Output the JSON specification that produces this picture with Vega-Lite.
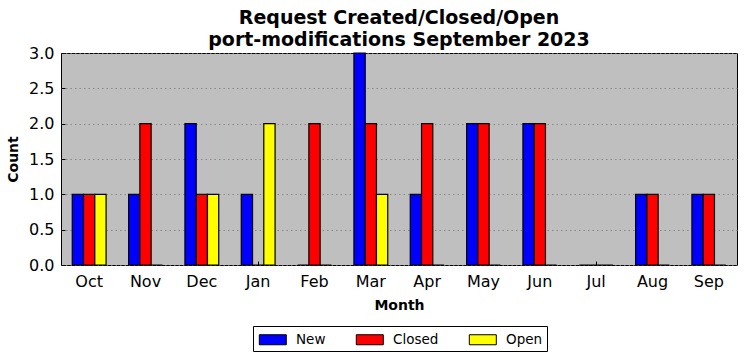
{
  "$schema": "https://vega.github.io/schema/vega-lite/v6.json",
  "width": 676,
  "height": 212,
  "autosize": {"type": "pad"},
  "padding": {"left": 6, "top": 9, "right": 9, "bottom": 0},
  "background": "white",
  "title": {
    "text": ["Request Created/Closed/Open", "port-modifications September 2023"],
    "font": "DejaVu Sans",
    "fontSize": 19,
    "fontWeight": "bold",
    "color": "black",
    "anchor": "middle",
    "frame": "group",
    "offset": -5,
    "lineHeight": 22
  },
  "config": {
    "view": {"fill": "#bfbfbf", "stroke": "black", "strokeWidth": 1},
    "font": "DejaVu Sans"
  },
  "data": {
    "values": [
      {"month": "Oct", "type": "New", "count": 1}, {"month": "Oct", "type": "Closed", "count": 1}, {"month": "Oct", "type": "Open", "count": 1},
      {"month": "Nov", "type": "New", "count": 1}, {"month": "Nov", "type": "Closed", "count": 2}, {"month": "Nov", "type": "Open", "count": 0},
      {"month": "Dec", "type": "New", "count": 2}, {"month": "Dec", "type": "Closed", "count": 1}, {"month": "Dec", "type": "Open", "count": 1},
      {"month": "Jan", "type": "New", "count": 1}, {"month": "Jan", "type": "Closed", "count": 0}, {"month": "Jan", "type": "Open", "count": 2},
      {"month": "Feb", "type": "New", "count": 0}, {"month": "Feb", "type": "Closed", "count": 2}, {"month": "Feb", "type": "Open", "count": 0},
      {"month": "Mar", "type": "New", "count": 3}, {"month": "Mar", "type": "Closed", "count": 2}, {"month": "Mar", "type": "Open", "count": 1},
      {"month": "Apr", "type": "New", "count": 1}, {"month": "Apr", "type": "Closed", "count": 2}, {"month": "Apr", "type": "Open", "count": 0},
      {"month": "May", "type": "New", "count": 2}, {"month": "May", "type": "Closed", "count": 2}, {"month": "May", "type": "Open", "count": 0},
      {"month": "Jun", "type": "New", "count": 2}, {"month": "Jun", "type": "Closed", "count": 2}, {"month": "Jun", "type": "Open", "count": 0},
      {"month": "Jul", "type": "New", "count": 0}, {"month": "Jul", "type": "Closed", "count": 0}, {"month": "Jul", "type": "Open", "count": 0},
      {"month": "Aug", "type": "New", "count": 1}, {"month": "Aug", "type": "Closed", "count": 1}, {"month": "Aug", "type": "Open", "count": 0},
      {"month": "Sep", "type": "New", "count": 1}, {"month": "Sep", "type": "Closed", "count": 1}, {"month": "Sep", "type": "Open", "count": 0}
    ]
  },
  "mark": {"type": "bar", "stroke": "black", "strokeWidth": 1.2},
  "encoding": {
    "x": {
      "field": "month", "type": "nominal",
      "sort": ["Oct","Nov","Dec","Jan","Feb","Mar","Apr","May","Jun","Jul","Aug","Sep"],
      "scale": {"paddingInner": 0.4, "paddingOuter": 0.2},
      "axis": {
        "title": "Month", "titleFont": "DejaVu Sans", "titleFontSize": 14, "titleFontWeight": "bold", "titleColor": "black", "titlePadding": 9,
        "labelAngle": 0, "labelFontSize": 16, "labelColor": "black", "labelPadding": 8,
        "domain": false, "ticks": true, "tickSize": 4, "offset": -4, "tickColor": "black", "grid": false
      }
    },
    "xOffset": {"field": "type", "type": "nominal", "sort": ["New", "Closed", "Open"], "scale": {"paddingInner": 0, "paddingOuter": 0}},
    "y": {
      "field": "count", "type": "quantitative",
      "scale": {"domain": [0, 3], "nice": false},
      "axis": {
        "title": "Count", "titleFont": "DejaVu Sans", "titleFontSize": 14, "titleFontWeight": "bold", "titleColor": "black", "titlePadding": 8,
        "values": [0, 0.5, 1, 1.5, 2, 2.5, 3], "format": ".1f",
        "labelFontSize": 16, "labelColor": "black", "labelPadding": 7,
        "domain": false, "ticks": true, "tickSize": 4, "offset": -4, "tickColor": "black",
        "grid": true, "gridColor": "#7a7a7a", "gridDash": [1.5, 3], "gridWidth": 0.8
      }
    },
    "color": {
      "field": "type", "type": "nominal", "sort": ["New", "Closed", "Open"],
      "scale": {"domain": ["New", "Closed", "Open"], "range": ["#0000ff", "#ff0000", "#ffff00"]},
      "legend": {
        "title": null, "orient": "none", "legendX": 192, "legendY": 273,
        "direction": "horizontal", "columns": 3,
        "symbolType": "M-0.8,-0.556H2.2V0.556H-0.8Z", "symbolSize": 324,
        "symbolStrokeColor": "black", "symbolStrokeWidth": 1, "symbolOpacity": 1,
        "labelFontSize": 13.5, "labelColor": "black", "labelFont": "DejaVu Sans",
        "columnPadding": 28, "labelOffset": 20,
        "strokeColor": "black", "padding": 4, "fillColor": "white"
      }
    }
  }
}
